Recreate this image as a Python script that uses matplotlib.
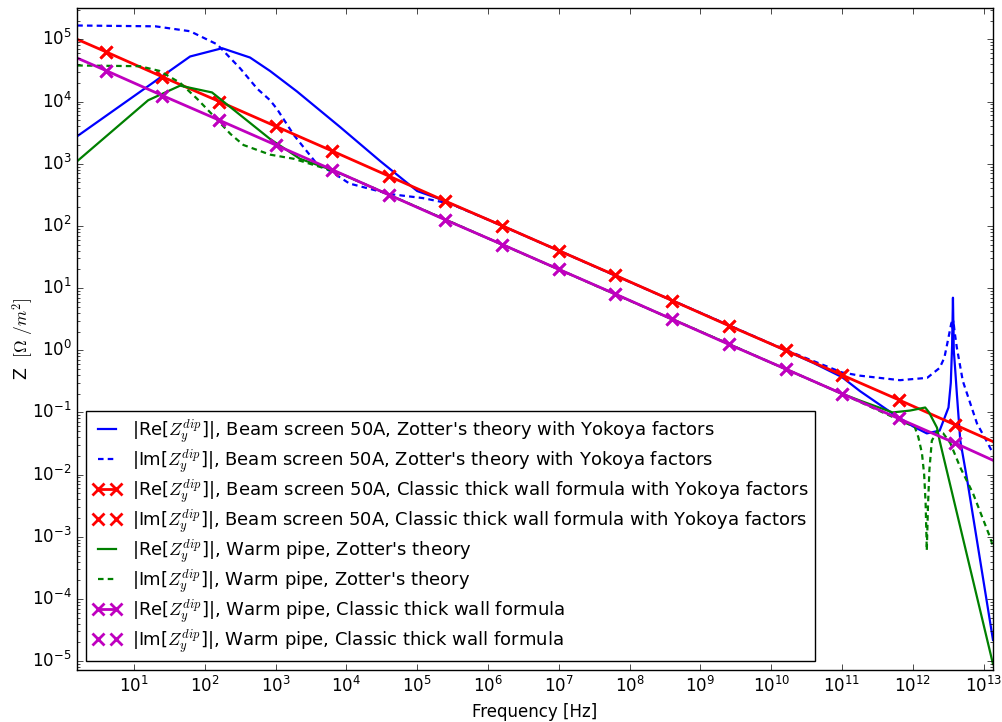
import matplotlib
matplotlib.use("Agg")
import matplotlib.pyplot as plt
from matplotlib.ticker import LogLocator, NullLocator

# Beam screen 50A, Zotter's theory with Yokoya factors
f_bs_re = [1.57, 61.7, 175, 434, 832, 2e3, 8.1e3, 3e4, 1e5, 2e5, 1e6, 1e7, 1e8, 1e9, 1e10,
           4e10, 1e11, 1.8e11, 5.2e11, 1.0e12, 1.58e12, 2.4e12, 3.2e12, 3.45e12, 3.6e12,
           3.7e12, 3.8e12, 4.0e12, 4.2e12, 4.7e12, 5.9e12, 1.36e13]
z_bs_re = [2.77e3, 5.3e4, 7.2e4, 5.1e4, 3.1e4, 1.45e4, 3.9e3, 1.1e3, 363, 275, 126, 40, 12.6, 4.0, 1.26,
           0.62, 0.37, 0.22, 0.096, 0.06, 0.046, 0.051, 0.12, 0.3, 1.2,
           7.0, 1.0, 0.45, 0.2, 0.035, 8e-3, 2.2e-5]

f_bs_im = [1.57, 20, 61.7, 149, 316, 550, 832, 1.05e3, 1.8e3, 3.8e3, 6.4e3, 1.1e4, 4.1e4, 1.2e5,
           2.9e5, 1e6, 1e7, 1e8, 1e9, 1e10, 2.6e10, 1e11, 1.8e11, 6.6e11, 1.6e12, 2.4e12, 2.8e12,
           3.2e12, 3.5e12, 3.65e12, 3.7e12, 3.75e12, 3.9e12, 4.2e12, 5.1e12, 6.5e12, 8.1e12,
           1.1e13, 1.36e13]
z_bs_im = [1.67e5, 1.62e5, 1.35e5, 8.3e4, 3.4e4, 1.6e4, 1.05e4, 7.5e3, 2.9e3, 1.0e3, 720, 480, 325, 280,
           228, 126, 40, 12.6, 4.0, 1.27, 0.81, 0.44, 0.39, 0.33, 0.36, 0.52, 0.76,
           1.6, 2.7, 3.0, 1.5, 3.0, 2.0, 1.1, 0.32, 0.14, 0.066,
           0.035, 0.022]

# Warm pipe, Zotter's theory
f_wp_re = [1.57, 15.8, 44.6, 126, 437, 832, 2.2e3, 5.9e3, 1e4, 1e5, 1e6, 1e7, 1e8, 1e9, 1e10,
           1e11, 1.8e11, 5.2e11, 9.1e11, 1.5e12, 1.7e12, 2.2e12, 2.4e12, 1.36e13]
z_wp_re = [1.1e3, 1.05e4, 1.8e4, 1.4e4, 4.5e3, 2.5e3, 1.2e3, 810, 630, 200, 63, 20, 6.3, 2.0, 0.63,
           0.2, 0.155, 0.10, 0.107, 0.12, 0.10, 0.057, 0.035, 9e-6]

f_wp_im = [1.57, 12, 23, 44.6, 78, 130, 230, 350, 832, 1.8e3, 5.3e3, 1e4, 1e5, 1e6, 1e7, 1e8, 1e9,
           1e10, 1e11, 1.07e12, 1.2e12, 1.35e12, 1.45e12, 1.52e12, 1.58e12, 1.64e12, 1.72e12,
           1.86e12, 2.2e12, 2.7e12, 3.4e12, 4.7e12, 7.1e12, 1.23e13, 1.36e13]
z_wp_im = [3.8e4, 3.7e4, 3.1e4, 2.0e4, 1.1e4, 6.0e3, 3.0e3, 2.0e3, 1.4e3, 1.2e3, 820, 632, 200, 63, 20,
           6.3, 2.0, 0.63, 0.2, 0.058, 0.04, 0.022, 0.01, 3.5e-3, 6e-4, 3e-3, 0.012,
           0.035, 0.05, 0.046, 0.032, 0.013, 5e-3, 1e-3, 7e-4]

# Classic thick wall formula (Re = Im)
f_cl = [1.57, 4, 25, 160, 1e3, 6.3e3, 4e4, 2.5e5, 1.6e6, 1e7, 6.3e7, 4e8, 2.5e9, 1.6e10,
        1e11, 6.3e11, 4e12, 1.36e13]
z_cl_bs = [1.0e5, 6.3e4, 2.5e4, 1.0e4, 4.0e3, 1.6e3, 630, 250, 100, 40, 16, 6.3, 2.5, 1.0,
           0.4, 0.16, 0.063, 0.034]
z_cl_wp = [5.0e4, 3.15e4, 1.25e4, 5.0e3, 2.0e3, 800, 315, 125, 50, 20, 8.0, 3.15, 1.25, 0.5,
           0.2, 0.08, 0.032, 0.017]

plt.style.use("classic")
plt.rcParams["figure.facecolor"] = "white"
plt.rcParams["mathtext.fontset"] = "cm"

zy = r"$Z_y^{dip}$"
fig = plt.figure(figsize=(10.03, 7.22), dpi=100)
ax = fig.add_axes([0.077, 0.072, 0.913, 0.917])

mk = slice(1, -1)
dash = (4, 3)
ax.plot(f_bs_re, z_bs_re, "b-", lw=1.6,
        label="|Re[" + zy + "]|, Beam screen 50A, Zotter's theory with Yokoya factors")
ax.plot(f_bs_im, z_bs_im, "b--", lw=1.6, dashes=dash,
        label="|Im[" + zy + "]|, Beam screen 50A, Zotter's theory with Yokoya factors")
ax.plot(f_cl, z_cl_bs, "r-x", lw=2, ms=8, mew=2, markevery=mk,
        label="|Re[" + zy + "]|, Beam screen 50A, Classic thick wall formula with Yokoya factors")
ax.plot(f_cl, z_cl_bs, "rx", ls="none", ms=8, mew=2, markevery=mk,
        label="|Im[" + zy + "]|, Beam screen 50A, Classic thick wall formula with Yokoya factors")
ax.plot(f_wp_re, z_wp_re, "g-", lw=1.6,
        label="|Re[" + zy + "]|, Warm pipe, Zotter's theory")
ax.plot(f_wp_im, z_wp_im, "g--", lw=1.6, dashes=dash,
        label="|Im[" + zy + "]|, Warm pipe, Zotter's theory")
ax.plot(f_cl, z_cl_wp, "m-x", lw=2, ms=8, mew=2, markevery=mk,
        label="|Re[" + zy + "]|, Warm pipe, Classic thick wall formula")
ax.plot(f_cl, z_cl_wp, "mx", ls="none", ms=8, mew=2, markevery=mk,
        label="|Im[" + zy + "]|, Warm pipe, Classic thick wall formula")

ax.set_xscale("log")
ax.set_yscale("log")
ax.set_xlim(1.57, 1.36e13)
ax.set_ylim(7.2e-6, 3.2e5)
ax.xaxis.set_major_locator(LogLocator(base=10, numticks=30))
ax.xaxis.set_minor_locator(NullLocator())
ax.yaxis.set_major_locator(LogLocator(base=10, numticks=30))
ax.yaxis.set_minor_locator(LogLocator(base=10, subs=range(2, 10), numticks=30))
ax.tick_params(labelsize=12)

ax.set_xlabel("Frequency [Hz]", fontsize=12)
ax.set_ylabel(r"Z  $[\Omega\ /m^2]$", fontsize=12.5, labelpad=-3)

ax.legend(loc="lower left", fontsize=13, numpoints=2, fancybox=False,
          handlelength=1.6, labelspacing=0.12, handletextpad=0.6, borderpad=0.35)

plt.savefig("out.png", dpi=100)
